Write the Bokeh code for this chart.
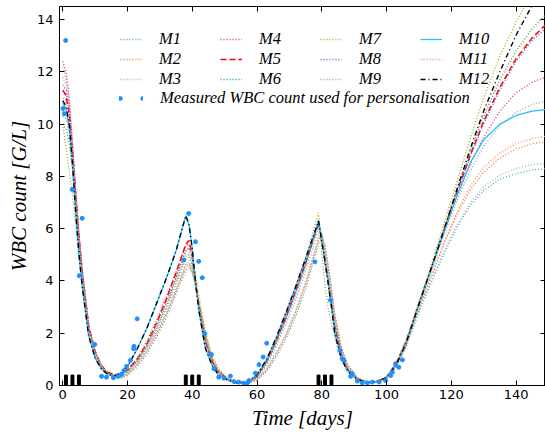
from bokeh.plotting import figure
from bokeh.models import ColumnDataSource, Legend, LegendItem, LinearAxis, FixedTicker, Range1d
from bokeh.embed import file_html
from bokeh.resources import INLINE

# ---------------- data ----------------
T = [0, 1, 2, 3, 4, 5, 6, 8, 10, 12, 14, 16, 18, 20, 23, 26, 29, 32, 35,
     38, 39, 40, 41, 42, 44, 46, 48, 51, 54, 57, 60, 63, 66, 69, 72, 75,
     79, 80, 81, 82, 83, 84, 86, 88, 91, 94, 97, 100, 103, 106,
     110, 114, 118, 122, 126, 130, 135, 140, 145, 150]

M1 = [10.3, 10.2, 9.7, 8.6, 7.1, 5.6, 4.3,
      2.3, 1.3, 0.75, 0.45, 0.3, 0.28, 0.38,
      0.7, 1.2, 1.85, 2.6, 3.5,
      4.4, 4.5, 4.3, 3.8, 3.2,
      2.0, 1.1, 0.6,
      0.25, 0.1, 0.08, 0.2,
      0.55, 1.1, 1.8, 2.65, 3.7,
      5.4, 5.65, 5.3, 4.6, 3.7, 2.75,
      1.5, 0.8,
      0.3, 0.14, 0.12, 0.24, 0.7, 1.45,
      2.8, 4.0, 5.1, 6.1, 6.9, 7.45,
      7.9, 8.1, 8.25, 8.3]
M2 = [11.0, 10.9, 10.3, 9.0, 7.4, 5.8, 4.4,
      2.3, 1.3, 0.72, 0.42, 0.3, 0.3, 0.42,
      0.78, 1.3, 1.95, 2.7, 3.6,
      4.55, 4.6, 4.35, 3.85, 3.2,
      1.95, 1.05, 0.58,
      0.24, 0.1, 0.08, 0.22,
      0.6, 1.2, 1.9, 2.8, 3.85,
      5.55, 5.75, 5.3, 4.55, 3.65, 2.7,
      1.45, 0.78,
      0.3, 0.14, 0.13, 0.26, 0.72, 1.5,
      2.9, 4.2, 5.5, 6.6, 7.5, 8.15,
      8.7, 9.05, 9.25, 9.35]
M3 = [12.2, 11.8, 10.9, 9.3, 7.5, 5.8, 4.4,
      2.2, 1.2, 0.68, 0.42, 0.32, 0.33, 0.46,
      0.85, 1.4, 2.05, 2.8, 3.7,
      4.65, 4.7, 4.4, 3.8, 3.1,
      1.85, 1.0, 0.55,
      0.23, 0.1, 0.09, 0.25,
      0.65, 1.28, 2.0, 2.9, 3.95,
      5.7, 5.85, 5.3, 4.5, 3.6, 2.65,
      1.4, 0.75,
      0.28, 0.13, 0.13, 0.27, 0.74, 1.5,
      2.85, 4.05, 5.2, 6.2, 7.0, 7.6,
      8.05, 8.3, 8.45, 8.5]
M4 = [12.4, 12.0, 11.0, 9.3, 7.4, 5.7, 4.3,
      2.1, 1.15, 0.66, 0.44, 0.38, 0.43, 0.6,
      1.05, 1.7, 2.5, 3.4, 4.35,
      5.35, 5.4, 4.9, 4.0, 3.1,
      1.7, 0.95, 0.52,
      0.24, 0.11, 0.11, 0.33,
      0.9, 1.7, 2.6, 3.6, 4.65,
      6.2, 5.6, 4.8, 4.0, 3.15, 2.3,
      1.2, 0.62,
      0.25, 0.13, 0.15, 0.31, 0.82, 1.62,
      3.1, 4.5, 5.95, 7.3, 8.5, 9.5,
      10.5, 11.2, 11.6, 11.85]
M5 = [11.3, 11.1, 10.4, 9.0, 7.3, 5.7, 4.4,
      2.3, 1.3, 0.75, 0.5, 0.42, 0.45, 0.6,
      1.0, 1.6, 2.4, 3.3, 4.3,
      5.4, 5.55, 5.0, 4.0, 3.1,
      1.7, 0.95, 0.52,
      0.25, 0.12, 0.12, 0.35,
      0.95, 1.75, 2.65, 3.65, 4.7,
      6.2, 5.55, 4.75, 3.95, 3.1, 2.25,
      1.2, 0.6,
      0.25, 0.13, 0.16, 0.32, 0.85, 1.68,
      3.1, 4.55, 6.05, 7.5, 8.85, 10.1,
      11.4, 12.5, 13.3, 13.9]
M6 = [10.0, 9.8, 9.3, 8.3, 6.9, 5.5, 4.2,
      2.2, 1.25, 0.72, 0.45, 0.35, 0.38, 0.52,
      0.92, 1.5, 2.2, 3.05, 4.0,
      4.95, 5.0, 4.6, 3.9, 3.1,
      1.8, 1.0, 0.55,
      0.24, 0.11, 0.1, 0.3,
      0.85, 1.6, 2.5, 3.5, 4.55,
      6.3, 5.7, 4.9, 4.05, 3.2, 2.35,
      1.25, 0.64,
      0.26, 0.13, 0.15, 0.3, 0.8, 1.6,
      3.15, 4.6, 6.1, 7.6, 9.0, 10.3,
      11.7, 12.8, 13.65, 14.3]
M7 = [10.0, 9.1, 8.2, 7.3, 6.1, 4.9, 3.8,
      2.0, 1.15, 0.7, 0.47, 0.38, 0.42, 0.58,
      1.0, 1.6, 2.35, 3.2, 4.15,
      5.15, 5.3, 5.0, 4.3, 3.5,
      2.1, 1.2, 0.65,
      0.28, 0.12, 0.11, 0.33,
      0.95, 1.8, 2.75, 3.8, 4.9,
      6.6, 5.1, 3.8, 2.95, 2.35, 1.85,
      1.0, 0.52,
      0.22, 0.12, 0.16, 0.33, 0.87, 1.72,
      3.2, 4.7, 6.3, 7.9, 9.5, 11.0,
      12.6, 13.9, 15.0, 15.9]
M8 = [11.5, 11.3, 10.6, 9.1, 7.3, 5.7, 4.35,
      2.25, 1.27, 0.73, 0.47, 0.38, 0.41, 0.56,
      0.95, 1.55, 2.3, 3.15, 4.1,
      5.15, 5.25, 4.8, 3.95, 3.1,
      1.75, 0.97, 0.53,
      0.24, 0.11, 0.11, 0.33,
      0.92, 1.7, 2.6, 3.6, 4.65,
      6.25, 5.6, 4.8, 4.0, 3.15, 2.3,
      1.22, 0.62,
      0.25, 0.13, 0.15, 0.31, 0.83, 1.65,
      3.1, 4.55, 6.0, 7.45, 8.8, 10.0,
      11.3, 12.4, 13.2, 13.75]
M9 = [10.5, 10.4, 9.9, 8.7, 7.1, 5.6, 4.3,
      2.25, 1.28, 0.74, 0.46, 0.34, 0.35, 0.48,
      0.88, 1.45, 2.15, 2.95, 3.9,
      4.85, 4.9, 4.55, 3.9, 3.15,
      1.85, 1.02, 0.56,
      0.24, 0.1, 0.09, 0.28,
      0.78, 1.5, 2.35, 3.3, 4.35,
      6.0, 5.8, 5.1, 4.3, 3.45, 2.55,
      1.35, 0.7,
      0.27, 0.13, 0.14, 0.29, 0.78, 1.56,
      3.05, 4.45, 5.85, 7.15, 8.25, 9.15,
      9.95, 10.45, 10.75, 10.9]
M10 = [10.8, 10.6, 9.9, 8.4, 6.6, 5.0, 3.8,
       1.9, 1.05, 0.62, 0.42, 0.38, 0.46, 0.72,
       1.4, 2.2, 3.15, 4.1, 5.15,
       6.5, 6.15, 5.25, 3.95, 2.9,
       1.45, 0.8, 0.42,
       0.2, 0.09, 0.12, 0.42,
       1.0, 1.85, 2.8, 3.8, 4.85,
       6.3, 5.5, 4.75, 3.9, 3.0, 2.0,
       1.05, 0.55,
       0.22, 0.12, 0.15, 0.3, 0.8, 1.6,
       3.1, 4.5, 5.95, 7.35, 8.55, 9.4,
       10.0, 10.33, 10.5, 10.57]
M11 = [11.8, 11.5, 10.7, 9.2, 7.4, 5.75, 4.4,
       2.25, 1.27, 0.72, 0.43, 0.31, 0.31, 0.44,
       0.8, 1.35, 2.0, 2.75, 3.65,
       4.6, 4.7, 4.4, 3.85, 3.15,
       1.9, 1.03, 0.57,
       0.24, 0.1, 0.08, 0.23,
       0.62, 1.22, 1.95, 2.85, 3.9,
       5.6, 5.8, 5.3, 4.55, 3.65, 2.7,
       1.45, 0.77,
       0.29, 0.14, 0.13, 0.26, 0.73, 1.5,
       2.95, 4.25, 5.55, 6.7, 7.65, 8.35,
       8.9, 9.25, 9.45, 9.55]
M12 = [10.9, 10.7, 10.0, 8.5, 6.65, 5.05, 3.82,
       1.9, 1.05, 0.62, 0.42, 0.38, 0.46, 0.72,
       1.4, 2.2, 3.15, 4.1, 5.15,
       6.5, 6.15, 5.25, 3.95, 2.9,
       1.45, 0.8, 0.42,
       0.2, 0.09, 0.12, 0.42,
       1.0, 1.85, 2.8, 3.8, 4.85,
       6.3, 5.5, 4.75, 3.9, 3.0, 2.0,
       1.05, 0.55,
       0.22, 0.12, 0.15, 0.3, 0.8, 1.6,
       3.1, 4.55, 6.05, 7.6, 9.1, 10.5,
       12.0, 13.4, 14.55, 15.5]

meas_t = [0.1, 0.5, 0.9, 2.9, 5.1, 6.0, 9.9, 12.0, 13.5, 15.6, 17.1, 18.1, 18.9,
          19.7, 20.9, 21.9, 22.0, 23.0, 37.4, 38.9, 41.0, 42.0, 43.1, 43.9, 45.9,
          46.7, 48.2, 49.8, 51.8, 52.9, 54.4, 55.9, 57.0, 57.5, 59.5, 60.6, 61.9,
          63.0, 77.9, 82.7, 85.6, 86.3, 86.8, 88.9, 89.4, 91.0, 92.5, 94.1, 95.6,
          97.7, 99.7, 101.3, 101.8, 102.8, 103.8, 104.9]
meas_v = [10.6, 10.4, 13.2, 7.5, 4.2, 6.4, 1.57, 0.35, 0.32, 0.3, 0.35, 0.42, 0.57,
          0.73, 0.96, 1.41, 1.5, 2.55, 4.8, 6.58, 5.5, 4.75, 4.12, 1.98, 1.19,
          0.64, 0.32, 0.28, 0.36, 0.15, 0.13, 0.09, 0.09, 0.19, 0.47, 0.8, 1.09,
          1.62, 4.73, 3.26, 1.34, 1.02, 0.96, 0.35, 0.45, 0.17, 0.1, 0.1, 0.13,
          0.13, 0.19, 0.38, 0.51, 0.83, 0.7, 0.98]

dose_days = [1, 3, 5, 38, 40, 42, 79, 81, 83]
dose_height = [0.4, 0.4, 0.4, 0.4, 0.4, 0.4, 0.4, 0.4, 0.4]

x_ticks = [0, 20, 40, 60, 80, 100, 120, 140]
y_ticks = [0, 2, 4, 6, 8, 10, 12, 14]

names = ["M1", "M2", "M3", "M4", "M5", "M6", "M7", "M8", "M9", "M10", "M11", "M12"]
series = [M1, M2, M3, M4, M5, M6, M7, M8, M9, M10, M11, M12]
colors = ["#4fae92", "#f07a30", "#98b4e0", "#e0306a", "#ff0000", "#2e9e62",
          "#a8a81a", "#6a5ae0", "#9aa0a0", "#1ec0ff", "#ff8c60", "#000000"]
dashes = ["1 2", "1 2", "1 2", "1 2", "6 3", "1 2", "1 2", "1 2", "1 2", "solid", "1 2", "5 3 1 3"]
widths = [1.3, 1.3, 1.3, 1.3, 1.5, 1.3, 1.3, 1.3, 1.3, 1.3, 1.3, 1.4]

SERIF = "Liberation Serif"
DOT = "#1e8fff"

p = figure(width=545, height=434, output_backend="svg", toolbar_location=None,
           x_range=Range1d(-1, 149.1), y_range=Range1d(0, 14.5),
           min_border_left=59, min_border_right=0, min_border_top=6, min_border_bottom=49)
p.xgrid.visible = False
p.ygrid.visible = False
p.outline_line_color = "black"
p.outline_line_width = 1
p.background_fill_color = "white"

renderers = []
for name, vals, c, d, w in zip(names, series, colors, dashes, widths):
    src = ColumnDataSource(dict(t=T, v=vals))
    r = p.line("t", "v", source=src, line_color=c, line_width=w, line_dash=d)
    renderers.append(r)

p.vbar(x=dose_days, top=dose_height, bottom=0, width=0.9, fill_color="black", line_color="black")

meas_src = ColumnDataSource(dict(t=meas_t, v=meas_v))
meas = p.scatter("t", "v", source=meas_src, size=4, fill_color=DOT, line_color=DOT)
# hidden companion renderer, used only for the two-dot legend sample
meas_key = p.line("t", "v", source=meas_src, line_color=DOT, line_width=4.5,
                  line_dash="1 22", line_cap="round", visible=False)

# axes
for ax in p.xaxis:
    ax.ticker = FixedTicker(ticks=x_ticks)
for ax in p.yaxis:
    ax.ticker = FixedTicker(ticks=y_ticks)
for ax in list(p.xaxis) + list(p.yaxis):
    ax.major_tick_in = 5
    ax.major_tick_out = 0
    ax.minor_tick_in = 0
    ax.minor_tick_out = 0
    ax.axis_line_color = "black"
    ax.major_tick_line_color = "black"
    ax.major_label_text_font = "DejaVu Sans"
    ax.major_label_text_font_size = "13px"
    ax.major_label_text_color = "black"
    ax.axis_label_text_font = SERIF
    ax.axis_label_text_font_style = "italic"
    ax.axis_label_text_font_size = "21px"
    ax.axis_label_text_color = "black"

p.xaxis.axis_label = "Time [days]"
p.yaxis.axis_label = "WBC count [G/L]"
p.xaxis.major_label_standoff = 4
p.xaxis.axis_label_standoff = 4
p.yaxis.major_label_standoff = 6
p.yaxis.axis_label_standoff = 3

top_ax = LinearAxis(ticker=FixedTicker(ticks=x_ticks), major_label_text_font_size="0px",
                    major_label_overrides={t: "" for t in x_ticks},
                    major_label_standoff=0, major_tick_in=5, major_tick_out=0,
                    minor_tick_in=0, minor_tick_out=0, axis_line_color="black")
right_ax = LinearAxis(ticker=FixedTicker(ticks=y_ticks), major_label_text_font_size="0px",
                      major_label_overrides={t: "" for t in y_ticks},
                      major_label_standoff=0, major_tick_in=5, major_tick_out=0,
                      minor_tick_in=0, minor_tick_out=0, axis_line_color="black")
p.add_layout(top_ax, "above")
p.add_layout(right_ax, "right")

# legends: four columns of three, plus the measurement row
def make_legend(items, loc, gw=22, standoff=17, spacing=0):
    lg = Legend(items=items, location=loc, orientation="vertical",
                background_fill_alpha=0, border_line_alpha=0,
                inactive_fill_alpha=0,
                padding=0, margin=0, spacing=spacing,
                glyph_width=gw, glyph_height=16, label_height=16,
                label_standoff=standoff, label_text_font=SERIF,
                label_text_font_style="italic", label_text_font_size="16.5px",
                label_text_color="black")
    p.add_layout(lg)
    return lg

col_x = [61, 161, 261, 361]
for ci in range(4):
    items = [LegendItem(label=names[ci * 3 + k], renderers=[renderers[ci * 3 + k]]) for k in range(3)]
    make_legend(items, (col_x[ci], 296))

make_legend([LegendItem(label="Measured WBC count used for personalisation", renderers=[meas_key])],
            (60, 277), gw=24, standoff=17, spacing=0)

open("out.html", "w").write(file_html(p, INLINE))
